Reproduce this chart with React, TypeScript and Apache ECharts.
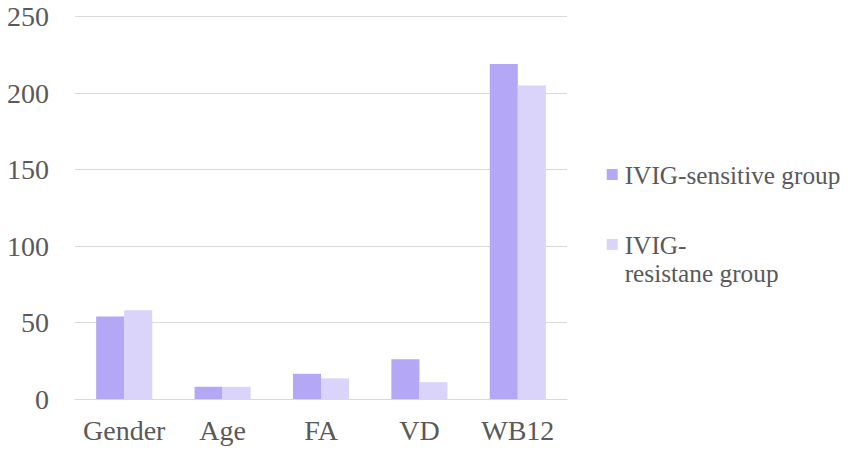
import React, { useEffect, useRef } from "react";
import * as echarts from "echarts";

const categories = ["Gender", "Age", "FA", "VD", "WB12"];
const sensitiveValues = [54, 8, 16.5, 26, 219];
const resistantValues = [58, 8, 13.5, 11, 205];
const seriesNames = ["IVIG-sensitive group", "IVIG-resistane group"];
const yTicks = { min: 0, max: 250, interval: 50 };

const FONT = "Liberation Serif";
const TEXT_COLOR = "#595959";

export default function App() {
  const ref = useRef<HTMLDivElement>(null);
  useEffect(() => {
    if (!ref.current) return;
    const chart = echarts.init(ref.current, undefined, { renderer: "svg" });
    chart.setOption({
      animation: false,
      backgroundColor: "#ffffff",
      grid: { left: 75, right: 284, top: 16.7, bottom: 55, containLabel: false },
      xAxis: {
        type: "category",
        data: categories,
        axisLine: { show: true, lineStyle: { color: "#d9d9d9", width: 1 } },
        axisTick: { show: false },
        axisLabel: {
          interval: 0,
          color: TEXT_COLOR,
          fontFamily: FONT,
          fontSize: 28,
          margin: 17,
        },
      },
      yAxis: {
        type: "value",
        min: yTicks.min,
        max: yTicks.max,
        interval: yTicks.interval,
        axisLine: { show: false },
        axisTick: { show: false },
        splitLine: { lineStyle: { color: "#d9d9d9", width: 1 } },
        axisLabel: {
          color: TEXT_COLOR,
          fontFamily: FONT,
          fontSize: 28,
          margin: 26,
        },
      },
      legend: [
        {
          data: [seriesNames[0]],
          orient: "vertical",
          left: 606.7,
          top: 160.5,
          padding: 0,
          itemWidth: 11,
          itemHeight: 11,
          icon: "rect",
          selectedMode: false,
          textStyle: {
            color: TEXT_COLOR,
            fontFamily: FONT,
            fontSize: 25.3,
            lineHeight: 28,
            padding: [0, 0, 0, 2],
          },
        },
        {
          data: [seriesNames[1]],
          orient: "vertical",
          left: 606.7,
          top: 202.5,
          padding: 0,
          itemWidth: 11,
          itemHeight: 11,
          icon: "rect",
          selectedMode: false,
          formatter: () => " \nIVIG-\nresistane group",
          textStyle: {
            color: TEXT_COLOR,
            fontFamily: FONT,
            fontSize: 25.3,
            lineHeight: 28,
            padding: [0, 0, 0, 2],
          },
        },
      ],
      series: [
        {
          name: seriesNames[0],
          type: "bar",
          data: sensitiveValues,
          barGap: "0%",
          barCategoryGap: "43%",
          itemStyle: { color: "#b4a7f5" },
        },
        {
          name: seriesNames[1],
          type: "bar",
          data: resistantValues,
          barGap: "0%",
          barCategoryGap: "43%",
          itemStyle: { color: "#dad4fa" },
        },
      ],
    });
    return () => chart.dispose();
  }, []);
  return (
    <div
      ref={ref}
      style={{ position: "fixed", left: 0, top: 0, width: 851, height: 454 }}
    />
  );
}
